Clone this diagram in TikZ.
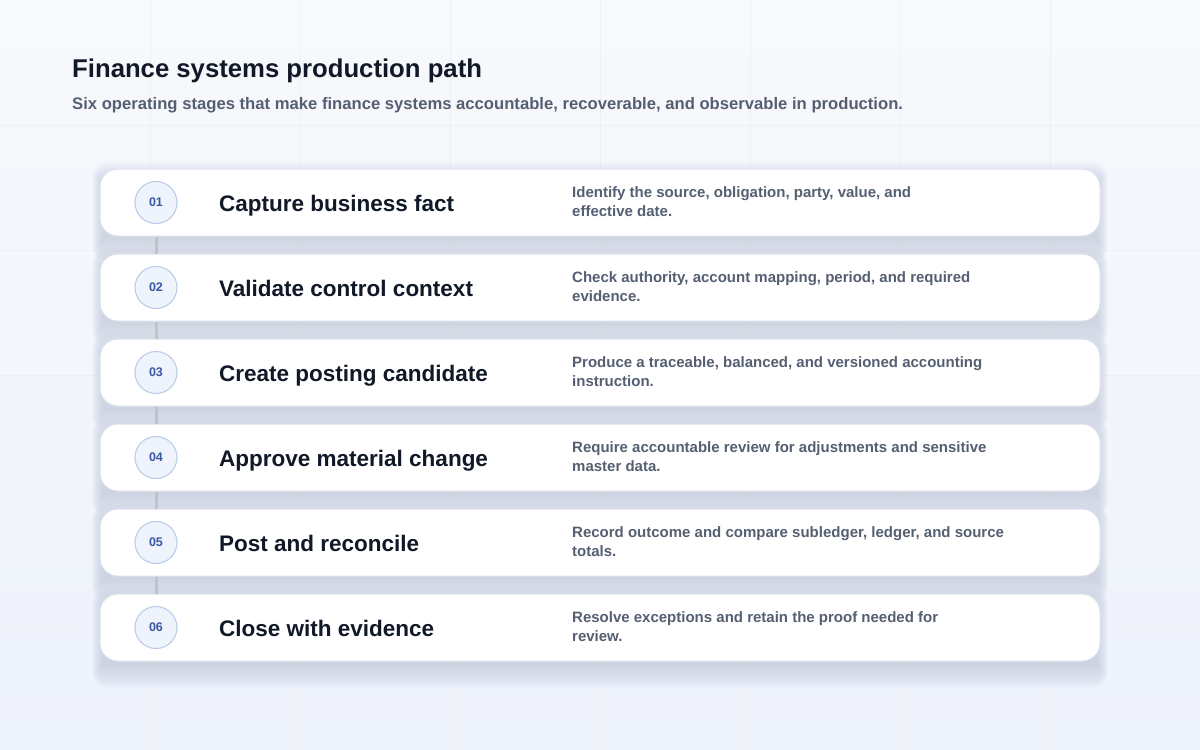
\documentclass[tikz,border=0pt]{standalone}
\usepackage{fontspec}
\setmainfont{Liberation Sans}

\definecolor{bgtop}{HTML}{F8F9FC}
\definecolor{bgbot}{HTML}{EEF2FB}
\definecolor{gridc}{HTML}{EDF0F6}
\definecolor{ink}{HTML}{111827}
\definecolor{muted}{HTML}{555F72}
\definecolor{cardline}{HTML}{DCE2EC}
\definecolor{shadowc}{HTML}{8A91A6}
\definecolor{numfill}{HTML}{EEF3FC}
\definecolor{numline}{HTML}{B7C9E6}
\definecolor{numtext}{HTML}{3A57A3}
\definecolor{linkc}{HTML}{BFC3CC}

\tikzset{
  card/.style={draw=cardline, line width=1pt, fill=white, rounded corners=18pt,
    minimum width=1000pt, minimum height=67pt, inner sep=0pt},
  num/.style={circle, draw=numline, line width=1pt, fill=numfill,
    minimum size=42pt, inner sep=0pt, text=numtext,
    font=\fontsize{12.5}{14}\selectfont\bfseries},
  steptitle/.style={anchor=base west, inner sep=0pt, text=ink,
    font=\fontsize{22.5}{26}\selectfont\bfseries},
  stepdesc/.style={anchor=west, inner sep=0pt, text=muted, align=left,
    font=\fontsize{15}{19}\selectfont\bfseries},
  link/.style={linkc, line width=3pt}
}

\begin{document}
\begin{tikzpicture}[x=1pt, y=-1pt]

    % background
    \shade[top color=bgtop, bottom color=bgbot] (0,0) rectangle (1200,750);
    \useasboundingbox (0,0) rectangle (1200,750);
    \foreach \gx in {150,300,...,1050}
        \draw[gridc, line width=0.8pt] (\gx,0) -- (\gx,750);
    \foreach \gy in {125,250,...,625}
        \draw[gridc, line width=0.8pt] (0,\gy) -- (1200,\gy);

    % heading
    \node[anchor=base west, inner sep=0pt, text=ink,
        font=\fontsize{25.7}{30}\selectfont\bfseries] (title) at (72,77) {Finance systems production path};
    \node[anchor=base west, inner sep=0pt, text=muted,
        font=\fontsize{16.65}{20}\selectfont\bfseries] (subtitle) at (72,109)
        {Six operating stages that make finance systems accountable, recoverable, and observable in production.};

    % soft shadows under the cards
    \foreach \i in {1,...,6}
        \foreach \k [evaluate=\k as \r using 18+\k] in {-6,...,18}
            \fill[shadowc, opacity=0.011, rounded corners=\r pt]
                ({100-0.45*\k},{169+85*(\i-1)+10-\k}) rectangle ({1100+0.45*\k},{236+85*(\i-1)+10+\k});

    % stages
    \foreach \i/\name/\descA/\descB in {
        1/{Capture business fact}/{Identify the source, obligation, party, value, and}/{effective date.},
        2/{Validate control context}/{Check authority, account mapping, period, and required}/{evidence.},
        3/{Create posting candidate}/{Produce a traceable, balanced, and versioned accounting}/{instruction.},
        4/{Approve material change}/{Require accountable review for adjustments and sensitive}/{master data.},
        5/{Post and reconcile}/{Record outcome and compare subledger, ledger, and source}/{totals.},
        6/{Close with evidence}/{Resolve exceptions and retain the proof needed for}/{review.}}
    {
        \node[card] (card\i) at (600,{202.5+85*(\i-1)}) {};
        \node[num] (num\i) at (156,{202.5+85*(\i-1)}) {0\i};
        \node[steptitle] (name\i) at (219,{211+85*(\i-1)}) {\name};
        \node[stepdesc] (desc\i) at (572,{202+85*(\i-1)}) {\descA\\\descB};
    }

    % connectors
    \foreach \i [evaluate=\i as \j using int(\i+1)] in {1,...,5}
        \draw[link] (card\i.south -| num\i) -- (card\j.north -| num\i);

\end{tikzpicture}
\end{document}
